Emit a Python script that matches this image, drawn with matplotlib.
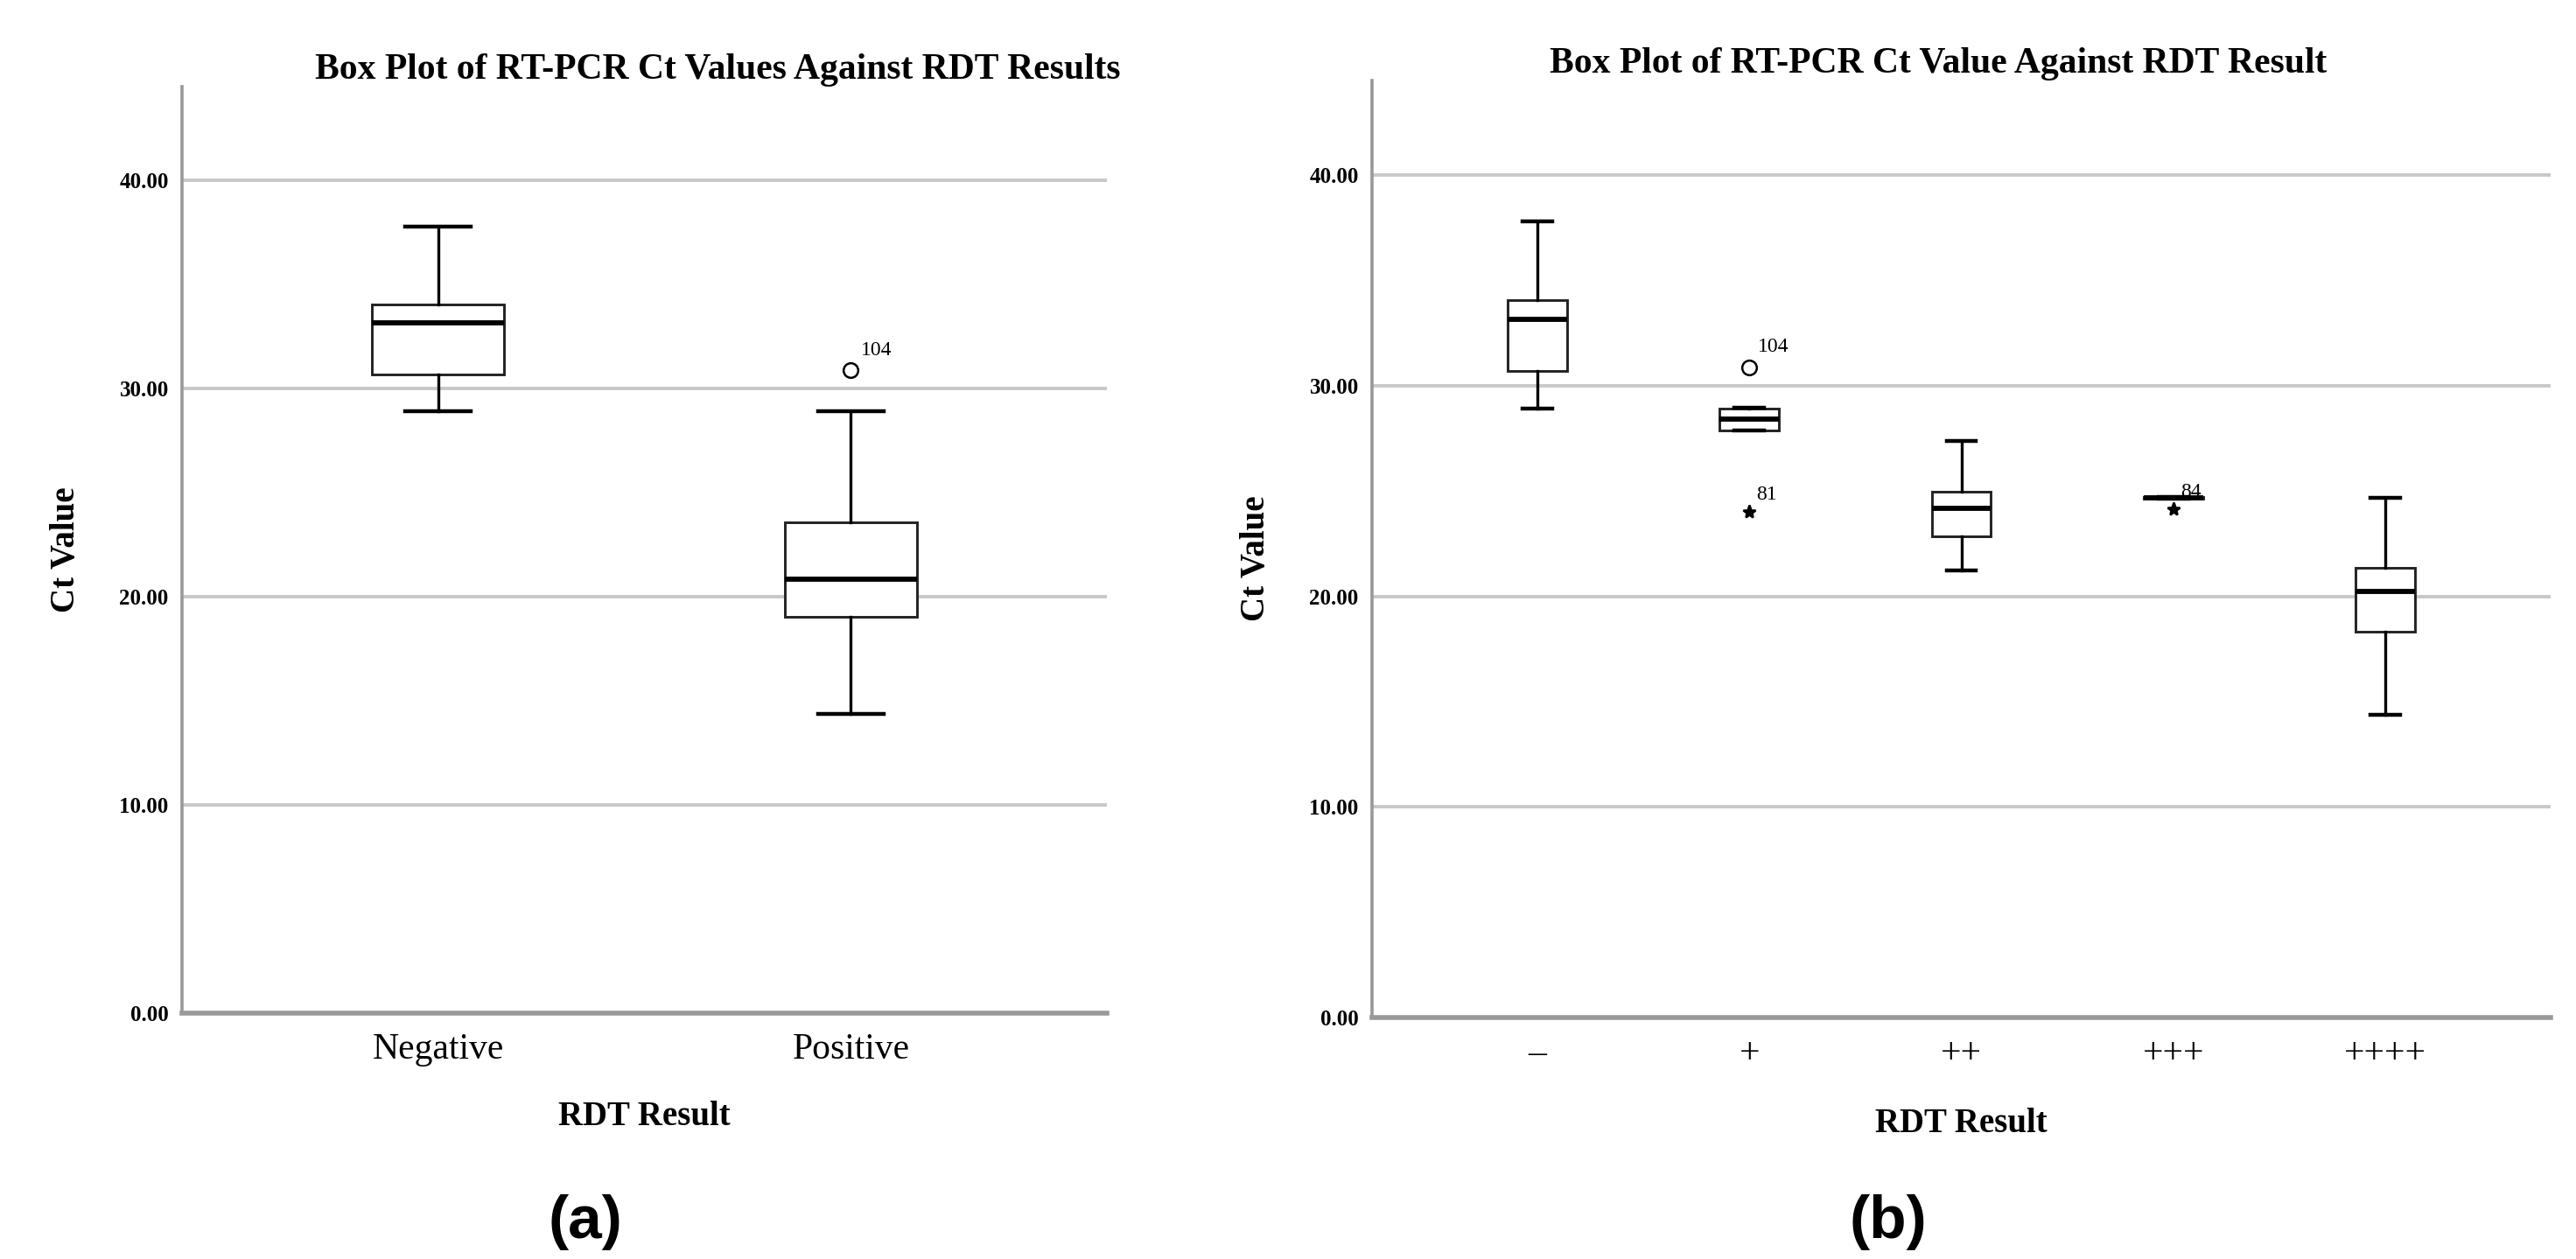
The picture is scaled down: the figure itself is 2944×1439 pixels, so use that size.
import matplotlib.pyplot as plt

# figure size in pixels (dpi 100)
W, H = 2944, 1439

# ---- data, panel (a) ----
a_labels = ['Negative', 'Positive']
a_whislo = [28.90, 14.38]
a_q1 = [30.68, 19.03]
a_med = [33.15, 20.85]
a_q3 = [34.05, 23.59]
a_whishi = [37.79, 28.91]
a_out_cat = [2]
a_out_val = [30.88]
a_out_lab = ['104']

# ---- data, panel (b) ----
b_labels = ['\u2013', '+', '++', '+++', '++++']
b_whislo = [28.92, 27.86, 21.25, 24.62, 14.37]
b_q1 = [30.69, 27.90, 22.86, 24.62, 18.33]
b_med = [33.16, 28.40, 24.18, 24.68, 20.22]
b_q3 = [34.07, 28.91, 24.96, 24.74, 21.35]
b_whishi = [37.79, 28.95, 27.40, 24.74, 24.67]
b_circ_cat = [2]
b_circ_val = [30.86]
b_circ_lab = ['104']
b_star_cat = [2, 4]
b_star_val = [24.03, 24.15]
b_star_lab = ['81', '84']

yticks = [0, 10, 20, 30, 40]

SERIF = ['Liberation Serif', 'DejaVu Serif']

fig = plt.figure(figsize=(W / 100, H / 100), dpi=100)


def axes_px(l, t, r, b):
    return fig.add_axes([l / W, 1 - b / H, (r - l) / W, (b - t) / H])


def text_px(x, y, s, **kw):
    fig.text(x / W, 1 - y / H, s, **kw)


def draw_panel(ax, labels, whislo, q1, med, q3, whishi, width, xlim):
    stats = []
    for i in range(len(labels)):
        stats.append(dict(label=labels[i], whislo=whislo[i], q1=q1[i], med=med[i],
                          q3=q3[i], whishi=whishi[i], fliers=[]))
    pos = list(range(1, len(labels) + 1))
    ax.bxp(stats, positions=pos, widths=width, capwidths=width / 2,
           showfliers=False, patch_artist=True,
           boxprops=dict(facecolor='white', edgecolor='#222222', linewidth=2.1),
           medianprops=dict(color='black', linewidth=4.2, solid_capstyle='butt'),
           whiskerprops=dict(color='black', linewidth=2.4),
           capprops=dict(color='black', linewidth=3.2))
    ax.set_xlim(*xlim)
    ax.set_ylim(0, 44.5)
    ax.set_yticks(yticks)
    ax.set_yticklabels(['%.2f' % v for v in yticks], fontfamily=SERIF,
                       fontweight='bold', fontsize=18)
    ax.set_xticks(pos)
    ax.set_xticklabels(labels, fontfamily=SERIF, fontsize=30)
    ax.tick_params(axis='both', length=0)
    ax.tick_params(axis='y', pad=11)
    ax.tick_params(axis='x', pad=16)
    ax.grid(axis='y', color='#c8c8c8', linewidth=2.8)
    ax.set_axisbelow(True)
    for s in ['top', 'right']:
        ax.spines[s].set_visible(False)
    ax.spines['left'].set_color('#999999')
    ax.spines['left'].set_linewidth(2.6)
    ax.spines['bottom'].set_color('#999999')
    ax.spines['bottom'].set_linewidth(4.0)


def outliers(ax, cats, vals, labs, marker, ms, dx, dy):
    ax.plot(cats, vals, linestyle='none', marker=marker, ms=ms,
            mfc='white' if marker == 'o' else 'black', mec='black', mew=1.8, zorder=5)
    for c, v, t in zip(cats, vals, labs):
        ax.annotate(t, (c, v), xytext=(dx, dy), textcoords='offset points',
                    fontfamily=SERIF, fontsize=17, va='baseline', ha='left', zorder=6)


ax_a = axes_px(208, 99, 1265, 1158)
draw_panel(ax_a, a_labels, a_whislo, a_q1, a_med, a_q3, a_whishi, 0.32, (0.38, 2.62))
outliers(ax_a, a_out_cat, a_out_val, a_out_lab, 'o', 12, 8.5, 12)

ax_b = axes_px(1568, 92, 2915, 1163)
draw_panel(ax_b, b_labels, b_whislo, b_q1, b_med, b_q3, b_whishi, 0.28, (0.22, 5.78))
outliers(ax_b, b_circ_cat, b_circ_val, b_circ_lab, 'o', 12, 7, 13)
outliers(ax_b, b_star_cat, b_star_val, b_star_lab, '*', 11, 6, 10)

# titles, axis labels
text_px(820, 90, 'Box Plot of RT-PCR Ct Values Against RDT Results', ha='center',
        va='baseline', fontfamily=SERIF, fontweight='bold', fontsize=30)
text_px(2215, 83, 'Box Plot of RT-PCR Ct Value Against RDT Result', ha='center',
        va='baseline', fontfamily=SERIF, fontweight='bold', fontsize=30)

text_px(75, 628, 'Ct Value', rotation=90, ha='center', va='center',
        fontfamily=SERIF, fontweight='bold', fontsize=28)
text_px(1436, 638, 'Ct Value', rotation=90, ha='center', va='center',
        fontfamily=SERIF, fontweight='bold', fontsize=28)

text_px(736, 1277, 'RDT Result', ha='center', va='center',
        fontfamily=SERIF, fontweight='bold', fontsize=28)
text_px(2241, 1284, 'RDT Result', ha='center', va='center',
        fontfamily=SERIF, fontweight='bold', fontsize=28)

text_px(669, 1397, '(a)', ha='center', va='center',
        fontfamily=['Liberation Sans', 'DejaVu Sans'], fontweight='bold', fontsize=50)
text_px(2158, 1397, '(b)', ha='center', va='center',
        fontfamily=['Liberation Sans', 'DejaVu Sans'], fontweight='bold', fontsize=50)

fig.savefig('out.png', dpi=100, facecolor='white')
